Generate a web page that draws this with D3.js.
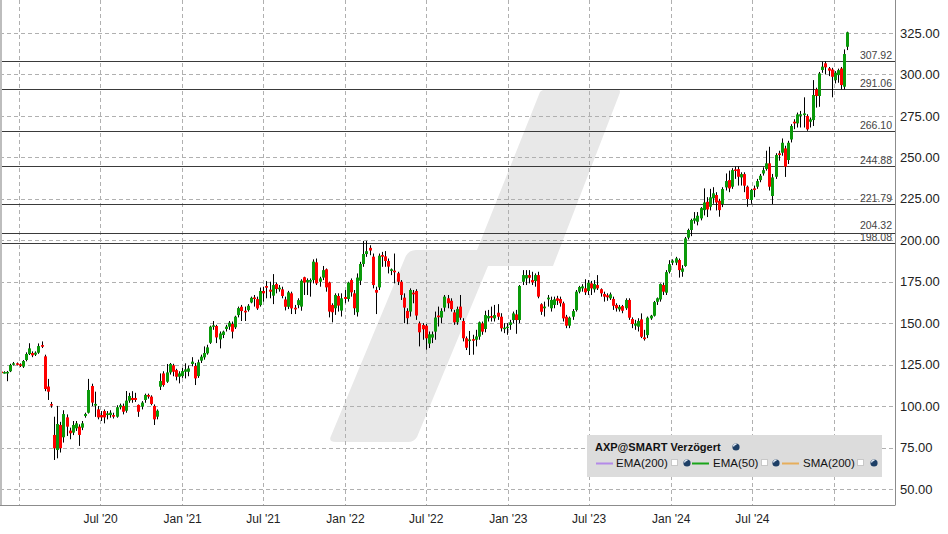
<!DOCTYPE html>
<html><head><meta charset="utf-8">
<script src="https://cdnjs.cloudflare.com/ajax/libs/d3/7.8.5/d3.min.js"></script>
<style>
body{margin:0;background:#fff;}
svg{display:block;font-family:"Liberation Sans",Arial,sans-serif;}
</style>
</head><body>
<svg id="chart" width="948" height="534"></svg>
<script>
// ---------- DATA (weekly candles, first week ending 2019-11-22) ----------
const firstWeek = "2019-11-22";
const opens = [
120.8,120.0,120.3,121.0,125.0,125.8,125.2,123.8,127.8,131.4,132.0,131.0,132.2,136.8,130.0,111.8,101.2,82.6,73.5,88.6,
81.2,93.2,85.2,84.0,86.6,87.6,87.0,94.0,96.0,112.1,100.3,98.0,94.6,97.0,94.6,94.6,94.6,93.6,99.3,100.1,
97.2,103.3,104.9,104.9,100.7,99.7,103.7,106.7,105.7,100.1,93.6,111.7,119.7,114.7,120.3,124.6,121.7,117.7,118.1,120.7,
120.7,125.4,124.2,118.1,127.4,129.4,131.8,138.2,147.9,148.3,140.2,142.9,146.5,147.9,149.5,147.5,154.9,159.9,157.5,157.9,
162.5,165.5,164.5,160.9,169.4,172.4,170.2,166.6,173.6,170.4,170.4,164.3,159.9,168.0,159.3,160.9,160.0,177.7,174.6,175.0,
176.0,186.7,175.0,177.5,182.5,174.5,161.0,159.0,166.4,157.6,165.8,164.6,176.0,168.0,156.6,175.6,185.7,191.7,195.4,190.1,
170.0,171.6,191.1,190.3,187.5,181.5,181.7,180.1,175.0,165.4,157.4,157.0,168.4,169.4,149.9,148.9,148.5,137.7,141.3,144.9,
154.6,153.4,159.4,165.0,163.5,156.5,150.5,160.0,151.3,140.9,139.2,140.4,140.0,141.9,149.9,146.5,152.9,154.3,152.9,156.3,
153.9,146.5,147.3,148.9,151.9,155.3,151.9,175.0,177.0,179.0,176.0,175.4,179.0,161.4,159.0,164.4,159.0,161.0,165.0,164.6,
162.0,153.9,148.5,153.9,157.9,169.0,171.0,171.0,169.4,174.0,170.4,173.0,170.5,167.6,166.8,165.0,164.6,161.0,158.3,160.3,
159.0,164.0,152.5,148.5,147.9,152.3,141.4,142.8,152.9,154.5,162.9,164.3,173.0,168.4,181.0,186.5,186.5,188.1,181.0,184.5,
201.6,206.2,211.8,211.2,213.2,218.2,223.2,220.2,225.3,227.3,223.8,221.8,231.9,236.3,232.3,242.7,242.9,237.9,239.9,232.3,
224.3,231.3,232.3,236.3,240.3,243.0,246.4,226.7,238.3,252.4,252.8,255.4,248.4,260.8,271.5,270.5,275.0,275.5,274.9,271.5,
272.5,291.0,287.0,302.7,306.7,303.7,303.0,296.6,299.6,303.6,292.6,316.7];
const highs = [
121.5,121.0,121.2,125.5,126.6,126.3,125.8,127.8,132.4,137.9,133.0,133.0,137.8,139.0,131.0,116.4,102.5,93.6,100.1,90.5,
97.5,95.0,87.0,91.0,91.0,89.0,91.0,96.0,116.4,113.5,108.7,100.0,97.0,98.0,97.0,97.5,96.0,100.5,101.5,101.5,
109.1,108.0,109.0,108.0,101.0,103.0,107.5,107.5,106.5,101.0,98.0,119.7,121.0,125.4,126.0,125.5,122.5,121.0,123.0,125.8,
124.5,129.5,126.0,128.0,131.0,136.0,137.0,148.5,151.3,149.0,145.0,145.5,149.0,151.3,151.0,154.5,160.0,161.0,160.0,161.5,
166.0,167.0,166.0,171.5,172.0,175.4,175.0,179.6,174.5,173.0,172.0,166.0,169.5,169.0,161.0,165.0,176.5,178.0,177.0,177.0,
188.5,189.0,178.0,184.5,183.0,175.0,162.0,168.0,168.0,168.0,170.0,175.0,177.0,170.0,180.0,187.0,199.6,199.6,197.0,192.0,
172.0,192.0,193.0,193.5,189.0,183.0,192.0,181.0,176.0,168.0,159.0,171.0,170.0,170.5,151.0,150.0,149.5,145.0,145.0,157.0,
160.0,159.0,167.0,167.0,165.0,158.0,160.0,167.0,153.0,142.0,145.3,143.0,146.0,151.0,151.0,157.5,158.0,160.0,161.0,161.5,
156.0,150.0,150.0,152.0,157.0,158.0,173.0,182.0,182.0,182.0,181.0,180.0,181.0,162.0,163.0,167.0,166.0,166.0,166.5,166.0,
163.0,155.0,154.0,158.5,170.0,172.5,173.5,176.5,176.0,175.5,176.0,179.0,171.0,169.0,168.0,168.5,166.0,162.0,161.0,161.0,
165.0,165.0,153.5,152.0,153.0,155.9,146.0,154.0,155.0,163.4,165.5,174.0,174.5,182.0,188.0,188.5,190.0,189.0,185.0,202.0,
207.0,213.0,217.0,217.0,220.0,231.3,226.0,231.0,232.0,229.0,225.0,232.0,240.3,242.0,243.5,244.5,244.5,241.0,241.0,233.0,
231.0,233.0,237.0,240.0,244.0,254.0,256.4,240.0,252.5,254.0,261.4,257.0,260.0,270.0,273.0,277.0,278.0,286.2,276.0,274.0,
296.6,292.0,301.5,307.7,308.0,304.5,304.0,302.0,303.5,304.5,315.1,325.8];
const lows = [
119.5,119.6,115.0,120.5,124.4,124.6,123.6,123.0,127.0,130.8,129.5,130.2,131.5,135.0,109.0,103.7,99.0,67.5,68.5,72.0,
78.0,82.0,80.0,82.5,85.0,76.0,85.5,93.0,95.5,100.0,93.5,92.0,91.0,89.6,92.0,93.0,92.5,93.0,98.0,95.0,
96.0,102.0,102.0,102.5,93.5,98.0,102.0,104.5,100.5,88.6,92.0,109.7,111.7,114.0,119.0,118.0,115.5,113.7,117.0,116.7,
118.0,124.0,112.7,117.0,126.0,128.0,131.0,137.5,146.0,138.0,134.8,141.0,145.0,146.0,140.8,146.5,153.5,151.3,151.3,157.0,
162.0,160.0,158.0,160.0,163.0,165.0,165.0,161.5,168.0,169.0,165.0,157.7,158.5,155.5,155.5,159.0,157.5,167.0,167.0,166.0,
174.0,173.0,172.0,176.0,169.0,153.5,150.5,155.0,157.0,154.0,162.0,163.0,166.0,155.0,154.0,173.0,184.0,190.0,191.0,171.0,
155.5,170.0,184.0,184.0,180.0,179.0,174.0,173.0,164.0,150.0,149.4,154.0,162.0,152.0,136.0,140.0,134.0,135.0,138.0,140.0,
148.0,150.0,157.0,159.0,157.0,149.0,149.0,152.0,139.0,133.8,130.8,131.0,136.0,140.0,143.0,144.5,151.0,151.0,151.0,152.0,
145.0,144.0,143.0,146.0,150.0,143.6,150.0,173.0,173.0,174.0,173.0,172.0,165.0,155.0,154.0,160.0,157.0,159.0,161.0,160.0,
151.0,147.0,147.0,152.0,157.0,168.0,169.0,167.0,167.0,167.0,168.5,170.0,166.0,163.0,163.5,164.0,158.0,157.0,157.0,156.0,
158.0,152.0,147.0,146.0,145.0,141.0,139.5,141.0,152.0,154.0,161.0,163.0,167.0,167.0,180.0,185.0,185.0,177.5,178.0,184.0,
200.5,202.5,210.0,209.0,212.0,215.0,214.0,218.0,222.0,218.0,214.2,220.0,230.0,229.0,231.0,237.0,233.0,233.0,229.0,220.2,
222.0,226.0,231.0,235.0,239.0,242.0,230.0,221.8,237.0,248.0,251.0,238.2,246.0,259.0,267.0,268.0,268.0,268.0,266.0,268.0,
268.9,280.0,280.5,301.0,300.0,299.0,286.2,294.6,295.0,291.0,291.0,314.7];
const closes = [
120.0,120.5,120.6,124.8,125.8,125.2,124.4,127.2,131.4,134.8,130.6,132.2,136.2,135.8,110.3,108.7,100.3,74.5,89.2,74.6,
95.2,87.6,83.6,88.6,89.6,82.6,89.6,95.2,109.7,102.1,101.3,93.2,93.2,93.2,95.6,96.0,93.6,99.3,100.5,96.6,
103.3,106.1,103.7,103.7,96.6,102.1,106.7,105.7,101.3,92.0,97.2,115.1,112.7,120.3,125.4,120.7,117.7,119.7,121.1,122.1,
122.7,126.8,116.7,126.4,129.8,132.0,135.4,147.9,148.7,141.4,143.8,144.9,147.9,150.3,144.9,153.9,159.1,157.3,156.5,160.5,
165.3,164.7,158.9,169.4,168.0,171.4,169.0,173.0,170.6,171.4,166.4,159.9,168.6,158.9,158.3,163.9,175.6,174.5,176.0,176.0,
187.1,174.0,177.0,182.0,171.6,157.0,156.6,167.0,160.6,165.0,164.6,174.5,168.6,159.0,177.5,185.7,191.7,193.4,193.8,173.0,
168.4,190.7,190.1,187.5,184.1,182.5,180.7,175.0,167.0,159.4,153.0,170.0,167.4,154.6,144.5,146.3,140.9,143.3,143.3,153.4,
153.6,157.4,166.0,162.0,158.5,150.5,158.5,153.3,140.9,135.2,140.2,139.4,142.0,150.5,144.9,154.9,154.3,153.3,154.9,153.9,
146.9,147.3,147.9,150.5,155.9,151.9,172.4,179.0,179.0,177.4,174.6,179.0,166.0,156.9,160.0,165.4,164.0,164.4,163.5,162.0,
152.9,148.5,153.3,157.3,169.0,171.8,172.2,168.6,174.4,171.0,173.6,171.0,168.0,166.0,165.6,167.4,160.5,159.0,159.9,157.5,
164.0,153.3,149.5,149.9,151.3,141.8,140.4,153.3,154.5,162.7,165.0,173.6,169.0,180.8,185.6,187.7,189.1,182.0,183.0,201.1,
206.2,212.2,213.2,214.8,219.4,222.8,218.6,225.9,228.3,222.8,218.2,230.9,235.7,231.3,242.3,241.9,238.3,239.9,232.9,224.9,
230.3,230.3,235.7,238.9,242.3,246.4,232.3,237.9,251.4,251.4,258.8,244.4,258.8,268.9,270.5,275.9,276.0,276.5,266.9,272.9,
287.6,287.0,300.6,304.7,304.3,302.3,298.6,301.0,302.6,293.6,312.3,325.4];

const priceTicks = [50,75,100,125,150,175,200,225,250,275,300,325];
const gridDates  = ["2020-01-01","2020-07-01","2021-01-01","2021-07-01","2022-01-01","2022-07-01",
                    "2023-01-01","2023-07-01","2024-01-01","2024-07-01","2025-01-01"];
const labelDates = ["2020-07-01","2021-01-01","2021-07-01","2022-01-01","2022-07-01",
                    "2023-01-01","2023-07-01","2024-01-01","2024-07-01"];
const labelTexts = ["Jul '20","Jan '21","Jul '21","Jan '22","Jul '22","Jan '23","Jul '23","Jan '24","Jul '24"];
const levels = [307.92,291.06,266.10,244.88,221.79,204.32,198.08];
const legendTitle = "AXP@SMART Verzögert";
const legendNames = ["EMA(200)","EMA(50)","SMA(200)"];
const legendColors = ["#b48ae8","#1aa51a","#e6ae5c"];

// ---------- LAYOUT ----------
const W = 948, H = 534, plotR = 895, plotB = 505;
const svg = d3.select("#chart");
const parse = d3.utcParse("%Y-%m-%d");
const t0w = parse(firstWeek);
const DAY = 864e5;
const candles = opens.map((o,i)=>({date:new Date(+t0w + i*7*DAY), o, h:highs[i], l:lows[i], c:closes[i]}));

const pxPerDay = 3.123/7;
const domStart = new Date(+t0w - (1/pxPerDay)*DAY);
const domEnd = new Date(+domStart + (plotR/pxPerDay)*DAY);
const x = d3.scaleUtc().domain([domStart, domEnd]).range([0, plotR]);
const y = d3.scaleLinear().domain([50,325]).range([489,33]);

svg.append("rect").attr("width",W).attr("height",H).attr("fill","#fff");

svg.append("defs").append("clipPath").attr("id","clip")
  .append("rect").attr("x",0).attr("y",0).attr("width",plotR).attr("height",plotB);

const plot = svg.append("g").attr("clip-path","url(#clip)");

// watermark
plot.append("path")
  .attr("d","M540,92 Q543,89 548,89 L616,89 Q622,89 619,95 L553,266 L488,266 L417,437 Q414,442 408,442 L336,442 Q328,442 331,436 L405,258 Q408,250 416,250 L477,250 Z")
  .attr("fill","#e8e8e8");

// grid
const gridStyle = g => g.attr("stroke","#b0b0b0").attr("stroke-width",1).attr("stroke-dasharray","4,3");
plot.append("g").selectAll("line").data(priceTicks).join("line")
  .attr("x1",0).attr("x2",plotR)
  .attr("y1",d=>Math.round(y(d))+0.5).attr("y2",d=>Math.round(y(d))+0.5)
  .call(gridStyle);
plot.append("g").selectAll("line").data(gridDates).join("line")
  .attr("x1",d=>Math.round(x(parse(d)))+0.5).attr("x2",d=>Math.round(x(parse(d)))+0.5)
  .attr("y1",0).attr("y2",plotB)
  .call(gridStyle);

// level lines
plot.append("g").selectAll("line").data(levels).join("line")
  .attr("x1",0).attr("x2",plotR)
  .attr("y1",d=>Math.round(y(d))+0.5).attr("y2",d=>Math.round(y(d))+0.5)
  .attr("stroke","#3a3a3a").attr("stroke-width",1);
// label baselines just above each line, nudged apart if they would collide
const lvlSorted = levels.slice().sort((a,b)=>a-b);
const lvlBase = new Map();
let prevBase = Infinity;
lvlSorted.forEach(v=>{
  let b = Math.round(y(v)) - 2;
  if (prevBase - b < 12.5) b = prevBase - 12.5;
  lvlBase.set(v,b); prevBase = b;
});
plot.append("g").selectAll("text").data(levels).join("text")
  .attr("x",plotR-3).attr("y",d=>lvlBase.get(d))
  .attr("text-anchor","end").attr("font-size",10.5).attr("fill","#444")
  .text(d=>d.toFixed(2));

// candles
const cg = plot.append("g");
cg.selectAll("line").data(candles).join("line")
  .attr("x1",d=>Math.round(x(d.date))+0.5).attr("x2",d=>Math.round(x(d.date))+0.5)
  .attr("y1",d=>y(d.h)).attr("y2",d=>y(d.l))
  .attr("stroke","#000").attr("stroke-width",1);
cg.selectAll("rect").data(candles).join("rect")
  .attr("x",d=>Math.round(x(d.date))-1)
  .attr("width",3)
  .attr("y",d=>y(Math.max(d.o,d.c)))
  .attr("height",d=>Math.max(1.5, Math.abs(y(d.o)-y(d.c))))
  .attr("fill",d=>d.c>=d.o ? "#0a9a0a" : "#ff0000");

// borders
svg.append("line").attr("x1",1).attr("x2",1).attr("y1",0).attr("y2",plotB).attr("stroke","#bdbdbd").attr("stroke-width",2);
svg.append("line").attr("x1",0).attr("x2",plotR+0.5).attr("y1",plotB+0.5).attr("y2",plotB+0.5).attr("stroke","#8c8c8c");
svg.append("line").attr("x1",plotR+0.5).attr("x2",plotR+0.5).attr("y1",0).attr("y2",plotB).attr("stroke","#8c8c8c");

// axes
const yAxis = d3.axisRight(y).tickValues(priceTicks).tickFormat(d3.format(".2f")).tickSize(0).tickPadding(5);
const ya = svg.append("g").attr("transform",`translate(${plotR},0)`).call(yAxis);
ya.select(".domain").remove();
ya.selectAll("text").attr("font-size",13).attr("fill","#222").attr("font-family","'Liberation Sans',Arial,sans-serif");

const xAxis = d3.axisBottom(x).tickValues(labelDates.map(parse)).tickFormat((d,i)=>labelTexts[i]).tickSize(0).tickPadding(9);
const xa = svg.append("g").attr("transform",`translate(0,${plotB})`).call(xAxis);
xa.select(".domain").remove();
xa.selectAll("text").attr("font-size",12).attr("fill","#222").attr("font-family","'Liberation Sans',Arial,sans-serif");

// legend
const lg = svg.append("g");
lg.append("rect").attr("x",587).attr("y",435).attr("width",295).attr("height",42).attr("fill","#dcdcdc");
lg.append("text").attr("x",595).attr("y",451).attr("font-size",11).attr("font-weight","bold").attr("fill","#111").text(legendTitle);
function icon(cx,cy){
  lg.append("circle").attr("cx",cx).attr("cy",cy).attr("r",3.6).attr("fill","#1d3f66");
  lg.append("path").attr("d",`M${cx-2.6},${cy-0.5} A2.8,2.8 0 0 1 ${cx+0.5},${cy-2.7}`).attr("stroke","#dfe8f2").attr("stroke-width",1.3).attr("fill","none");
}
icon(736,447);
const rowY = 467;
const itemX = [596, 692, 782];
const textX = [616, 713, 803];
const boxX = [671, 761, 857];
const icX = [687, 776, 874];
legendNames.forEach((n,i)=>{
  lg.append("line").attr("x1",itemX[i]).attr("x2",itemX[i]+17).attr("y1",rowY-3.5).attr("y2",rowY-3.5).attr("stroke",legendColors[i]).attr("stroke-width",2);
  lg.append("text").attr("x",textX[i]).attr("y",rowY).attr("font-size",11.5).attr("fill","#111").text(n);
  lg.append("rect").attr("x",boxX[i]+0.5).attr("y",rowY-7.5).attr("width",6).attr("height",6).attr("fill","#fff").attr("stroke","#c8c8c8");
  icon(icX[i], rowY-4);
});
</script>
</body></html>
